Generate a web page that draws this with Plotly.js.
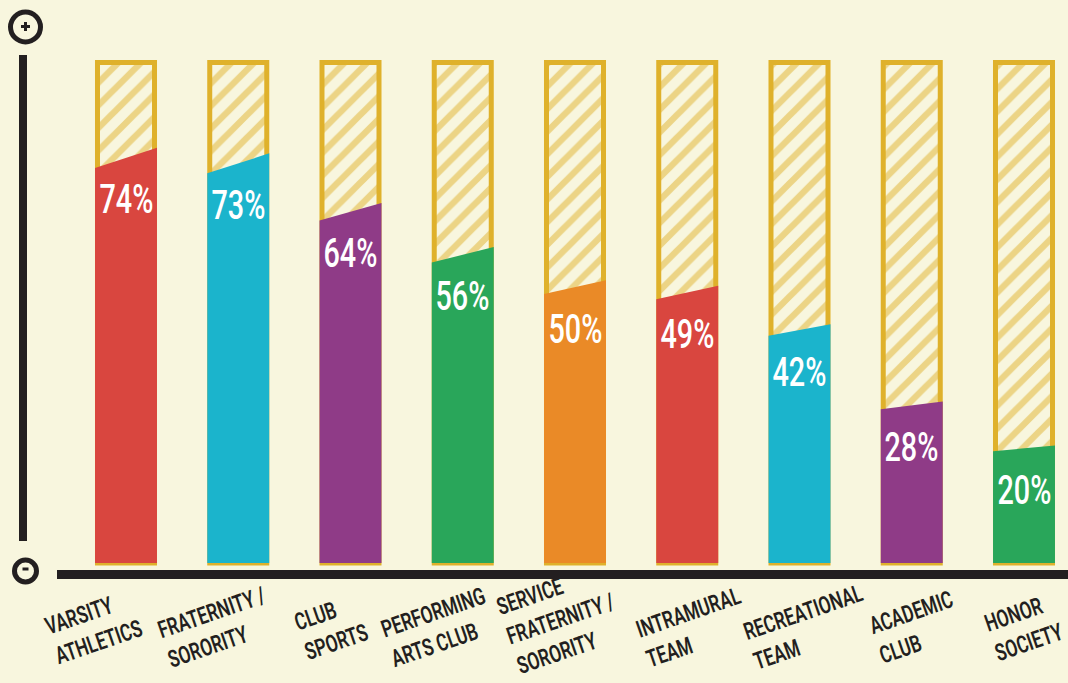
<!DOCTYPE html>
<html><head><meta charset="utf-8">
<script src="https://cdn.plot.ly/plotly-3.0.1.min.js"></script>
<style>
html,body{margin:0;padding:0;background:#f8f6de;}
#chart{width:1068px;height:683px;}
/* condense the text horizontally, as the reference uses a condensed typeface */
#chart .annotation-text{transform-box:fill-box;transform-origin:center;transform:scaleX(0.72);}
</style>
</head><body><div id="chart"></div>
<script>
// ---- data ----
const categories = ["VARSITY<br>ATHLETICS", "FRATERNITY /<br>SORORITY", "CLUB<br>SPORTS", "PERFORMING<br>ARTS CLUB",
  "SERVICE<br>FRATERNITY /<br>SORORITY", "INTRAMURAL<br>TEAM", "RECREATIONAL<br>TEAM", "ACADEMIC<br>CLUB", "HONOR<br>SOCIETY"];
const percentages = [74, 73, 64, 56, 50, 49, 42, 28, 20];
const percentLabels = ["74%", "73%", "64%", "56%", "50%", "49%", "42%", "28%", "20%"];

// ---- style ----
const barColors = ["#d9463f", "#1bb4cc", "#8f3b87", "#29a65a", "#ea8a27", "#d9463f", "#1bb4cc", "#8f3b87", "#29a65a"];
const labelNudgePx = [-33, -22, -20, -25, -15, 6, 8, 4, 0];   // horizontal nudge of each axis label (px)
const BG = "#f8f6de", GOLD = "#dfb12b", INK = "#231f20";
const FONT = "Roboto, 'Liberation Sans', sans-serif";
const W = 1068, H = 683;
const X_RANGE = [-1.1225, 8.392];
const Y_RANGE = [-23.64, 103.38];
const BASE = -1.32, FRAME_TOP = 91.76, SLANT = 0.025;
const FILL_HALF = 0.276, FRAME_WIDTH = 0.508;
const px = p => p / W, py = p => 1 - p / H;

const idx = categories.map((_, i) => i);
const traces = [];
// hatched frames
traces.push({
  type: 'bar', x: idx, y: idx.map(() => FRAME_TOP - BASE), base: BASE, width: FRAME_WIDTH,
  marker: { color: BG, line: { color: GOLD, width: 5 },
    pattern: { shape: '/', fgcolor: GOLD, bgcolor: BG, size: 16, solidity: 0.4, fillmode: 'overlay' } },
  hoverinfo: 'skip', showlegend: false
});
// filled bars with slanted tops
percentages.forEach((v, i) => {
  const h = v - BASE;
  traces.push({
    type: 'scatter', mode: 'lines', fill: 'toself', fillcolor: barColors[i],
    x: [i - FILL_HALF, i - FILL_HALF, i + FILL_HALF, i + FILL_HALF, i - FILL_HALF],
    y: [BASE, v - h * SLANT, v + h * SLANT, BASE, BASE],
    line: { width: 0, color: barColors[i] }, hoverinfo: 'skip', showlegend: false
  });
});

const annotations = [];
percentages.forEach((v, i) => {
  annotations.push({ x: i, y: v, xref: 'x', yref: 'y', text: percentLabels[i], showarrow: false,
    yanchor: 'middle', xanchor: 'center', yshift: -42,
    font: { family: FONT, size: 40, color: '#ffffff', weight: 500 } });
});
categories.forEach((c, i) => {
  const lines = c.split('<br>').length;
  annotations.push({ x: i, y: py(627 - 8 * (lines - 2)), xref: 'x', yref: 'paper', text: c, showarrow: false,
    xanchor: 'center', yanchor: 'middle', xshift: labelNudgePx[i], textangle: -19, align: 'left',
    font: { family: FONT, size: 24, color: INK, weight: 600 } });
});

const shapes = [
  // baseline
  { type: 'line', xref: 'paper', yref: 'paper', x0: px(57), x1: px(1068), y0: py(574.5), y1: py(574.5), line: { color: INK, width: 9 } },
  // vertical axis
  { type: 'line', xref: 'paper', yref: 'paper', x0: px(23), x1: px(23), y0: py(55), y1: py(541), line: { color: INK, width: 8 } },
  // plus circle
  { type: 'circle', xref: 'paper', yref: 'paper', x0: px(25.5 - 15), x1: px(25.5 + 15), y0: py(27 - 15), y1: py(27 + 15), line: { color: INK, width: 5 } },
  { type: 'line', xref: 'paper', yref: 'paper', x0: px(21), x1: px(30), y0: py(26.5), y1: py(26.5), line: { color: INK, width: 3 } },
  { type: 'line', xref: 'paper', yref: 'paper', x0: px(25.5), x1: px(25.5), y0: py(22), y1: py(31), line: { color: INK, width: 3 } },
  // minus circle
  { type: 'circle', xref: 'paper', yref: 'paper', x0: px(25.5 - 11), x1: px(25.5 + 11), y0: py(571 - 11), y1: py(571 + 11), line: { color: INK, width: 5 } },
  { type: 'line', xref: 'paper', yref: 'paper', x0: px(22.5), x1: px(28.5), y0: py(569), y1: py(569), line: { color: INK, width: 3 } }
];

const layout = {
  width: W, height: H, margin: { l: 0, r: 0, t: 0, b: 0 },
  paper_bgcolor: BG, plot_bgcolor: BG,
  xaxis: { range: X_RANGE, visible: false, fixedrange: true },
  yaxis: { range: Y_RANGE, visible: false, fixedrange: true },
  showlegend: false, annotations: annotations, shapes: shapes, bargap: 0
};
Plotly.newPlot('chart', traces, layout, { displayModeBar: false, staticPlot: true });
</script></body></html>
